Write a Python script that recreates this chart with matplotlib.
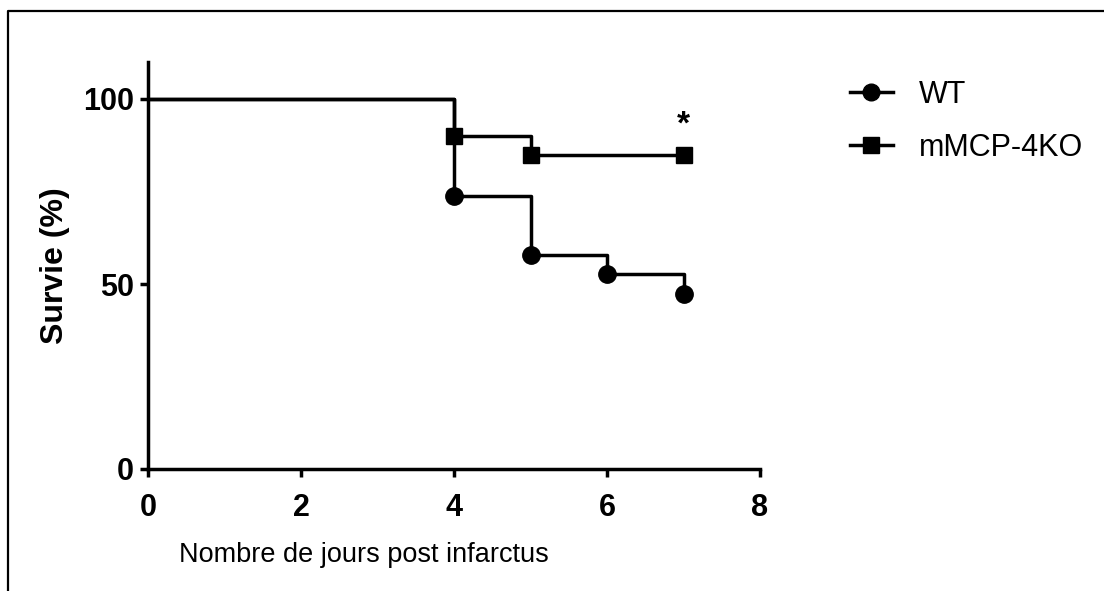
import numpy as np
import matplotlib
matplotlib.use('Agg')
import matplotlib.pyplot as plt
from matplotlib.lines import Line2D

plt.rcParams['font.family'] = ['Liberation Sans', 'DejaVu Sans']

# survival data (Kaplan-Meier steps)
wt_days = [0, 4, 5, 6, 7]
wt_surv = [100, 73.68, 57.89, 52.63, 47.37]
ko_days = [0, 4, 5, 7]
ko_surv = [100, 90, 85, 85]
x_ticks = [0, 2, 4, 6, 8]
y_ticks = [0, 50, 100]
labels = ['WT', 'mMCP-4KO']

fig = plt.figure(figsize=(11.04, 5.91), dpi=100)
ax = fig.add_axes([148/1104, 1 - 469/591, 612/1104, 407/591])

lw = 2.5
ax.plot(wt_days, wt_surv, drawstyle='steps-post', color='black', lw=lw, zorder=3)
ax.plot(wt_days[1:], wt_surv[1:], 'o', color='black', ms=12.5, zorder=4)
ax.plot(ko_days, ko_surv, drawstyle='steps-post', color='black', lw=lw, zorder=3)
ax.plot(ko_days[1:], ko_surv[1:], 's', color='black', ms=12, zorder=4)

ax.text(7, 93, '*', ha='center', va='center', fontsize=24, fontweight='bold')

ax.set_xlim(0, 8)
ax.set_ylim(0, 110)
ax.set_xticks(x_ticks)
ax.set_yticks(y_ticks)
for s in ['top', 'right']:
    ax.spines[s].set_visible(False)
for s in ['left', 'bottom']:
    ax.spines[s].set_linewidth(lw)
ax.spines['bottom'].set_capstyle('projecting')
ax.tick_params(direction='out', length=6, width=lw, labelsize=22)
ax.tick_params(axis='x', pad=11)
ax.tick_params(axis='y', pad=4)
for t in ax.get_xticklabels() + ax.get_yticklabels():
    t.set_fontweight('bold')

ax.set_ylabel('Survie (%)', fontsize=23, fontweight='bold', va='center')
ax.yaxis.set_label_coords(-0.152, 0.5)
ax.set_xlabel('Nombre de jours post infarctus', fontsize=19.5, va='center')
ax.xaxis.set_label_coords(0.353, -0.211)

handles = [Line2D([], [], color='black', lw=lw, marker='o', ms=12),
           Line2D([], [], color='black', lw=lw, marker='s', ms=11)]
fig.legend(handles, labels, loc='upper left', bbox_to_anchor=(850/1104, 1 - 80/591),
           frameon=False, fontsize=22, handlelength=1.4, handletextpad=0.85,
           labelspacing=0.75, borderpad=0, borderaxespad=0)

# frame around the figure
fig.add_artist(Line2D([7.5/1104, 7.5/1104, 1.01], [-0.01, 1 - 10.5/591, 1 - 10.5/591],
                      color='black', lw=1.6, transform=fig.transFigure))

fig.savefig('out.png', dpi=100)
